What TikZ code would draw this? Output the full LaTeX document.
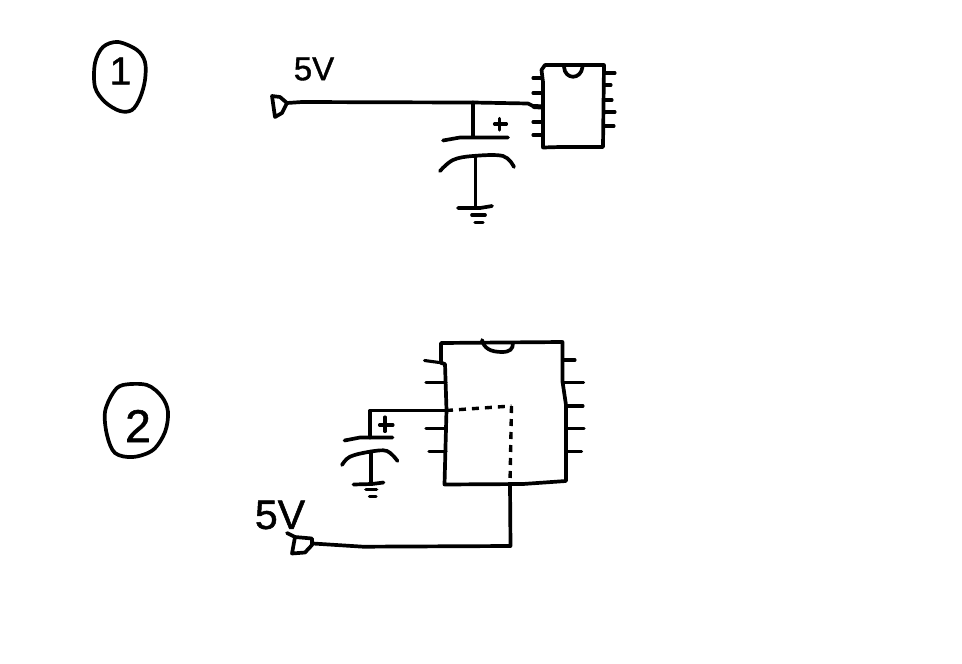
\documentclass[tikz,border=0pt]{standalone}
\usepackage{fontspec}
\newfontfamily\handfont{Liberation Sans}[FakeBold=1.2]
\begin{document}
\begin{tikzpicture}[x=1pt,y=-1pt,
  ink/.style={draw=black,line width=3.7pt,line cap=round,line join=round},
  thinink/.style={ink,line width=3.1pt},
  dashwire/.style={ink,line cap=butt,line width=3.4pt,dash pattern=on 7pt off 6pt},
  hand/.style={inner sep=0pt,text=black,font=\handfont\fontsize{#1}{#1}\selectfont},
  hand/.default=30]
\useasboundingbox (0,0) rectangle (962,664);
\fill[white] (0,0) rectangle (962,664);

% --- labels ---
\node[hand=33] (vone) at (314,69) {5V};
\node[hand=41] (vtwo) at (280,515) {5V};
\node[hand=39] (numone) at (120.5,71) {1};
\node[hand=46] (numtwo) at (138,426) {2};

% --- numbered rings ---
\draw[ink] plot[smooth cycle,tension=.55] coordinates {(118,42)(103,47)(95,63)(95,87)(105,102)(120,111)(132,110)(140,98)(145,80)(145,62)(137,50)};
\draw[ink] plot[smooth cycle,tension=.55] coordinates {(123,385)(147,385)(162,397)(168,412)(165,432)(153,450)(133,457)(115,453)(107,435)(105,412)(113,393)};

% --- circuit 1 ---
\coordinate (srcA) at (287,103);
\coordinate (tapA) at (473,102.5);
\coordinate (icA) at (542,107);
\coordinate (plusA) at (473,137);
\coordinate (minusA) at (475.5,156);
\coordinate (gndA) at (475.5,208);
\draw[ink] (272,96) -- (280,97) -- (287,103) -- (282,113) -- (275,117) -- cycle;
\draw[ink] (srcA) -- (302,102) -- (393,102.3) -- (tapA) -- (528,103.5) -- (533,106) -- (icA);
\draw[ink,line width=5pt] (534,106.5) -- (icA);
\draw[ink] (tapA) -- (plusA);
\draw[ink] (443,140.5) -- (460,137.5) -- (508,137.5);
\draw[ink] plot[smooth,tension=.6] coordinates {(440,171)(453,160)(473,156)(503,156)(514,167)};
\draw[ink] (minusA) -- (gndA);
\draw[ink] (458,208) -- (480,208) -- (492,206);
\draw[ink] (472,215) -- (485,215);
\draw[thinink] (475,222.5) -- (483,222.5);
\draw[thinink] (499.5,118.5) -- (499.5,130) (494.5,124) -- (506.5,124);
% chip 1
\draw[ink] (545,65) -- (604,65) -- (603,147) -- (560,147) -- (543,147.5) -- (543,82) -- (541.5,70) -- cycle;
\draw[ink] (564,67) .. controls (565,80) and (581,80) .. (582.5,67);
\foreach \y in {78,93,122,135} \draw[thinink] (533,\y) -- (542,\y);
\foreach \y/\x in {73/615,85/611,100/612,112/615,126/614} \draw[thinink] (604,\y) -- (\x,\y);

% --- circuit 2 ---
\coordinate (srcB) at (313,543.5);
\coordinate (cornerB) at (510.5,546);
\coordinate (chipB) at (510,484);
\coordinate (bendB) at (511.5,406);
\coordinate (pinB) at (446,410.5);
\coordinate (turnB) at (370,410.5);
\coordinate (plusB) at (370,437.5);
\coordinate (minusB) at (371,451.5);
\coordinate (gndB) at (371,484);
\draw[ink] (287,533) -- (295,537) -- (312,538.5) -- (312,545) -- (305,552.5) -- (292,553.5) -- (295,537);
\draw[ink] (srcB) -- (363,546.7) -- (cornerB) -- (chipB);
\draw[dashwire] (pinB) -- (bendB);
\draw[dashwire] (bendB) -- (chipB);
\draw[ink] (pinB) -- (turnB) -- (plusB);
\draw[ink] (344.5,440.5) -- (360,437.5) -- (392.5,437.5);
\draw[ink] plot[smooth,tension=.6] coordinates {(342,465)(350,456.7)(370,451.7)(387,451)(397.5,461)};
\draw[ink] (minusB) -- (gndB);
\draw[ink] (353.5,484.5) -- (372,484) -- (383.5,482.5);
\draw[ink] (366,489.5) -- (376.5,489.5);
\draw[thinink] (369.5,496.7) -- (376,496.7);
\draw[thinink] (385,417) -- (385,431.5) (379.5,425) -- (393,425);
% chip 2
\draw[ink] (441,343) -- (562.5,342) -- (562.5,381.5) -- (566,405) -- (566,481) -- (523,484) -- (444.5,484.5) -- (446.5,410) -- (445,364) -- (441,363) -- cycle;
\draw[ink] (482,340) .. controls (484,348) and (490,352) .. (502,352) .. controls (510,352) and (513,349) .. (513,343);
\draw[thinink] (424.5,360.5) -- (443,363);
\draw[thinink] (426,382.7) -- (446,382.7);
\draw[thinink] (426,428.7) -- (446,428.7);
\draw[thinink] (429,451.7) -- (446,451.7);
\foreach \y/\a/\b in {360/562.5/575,382.7/562.5/583.5,406/566/583,428.7/566/584,451.7/566/581.5}
  \draw[thinink] (\a,\y) -- (\b,\y);
\end{tikzpicture}
\end{document}
